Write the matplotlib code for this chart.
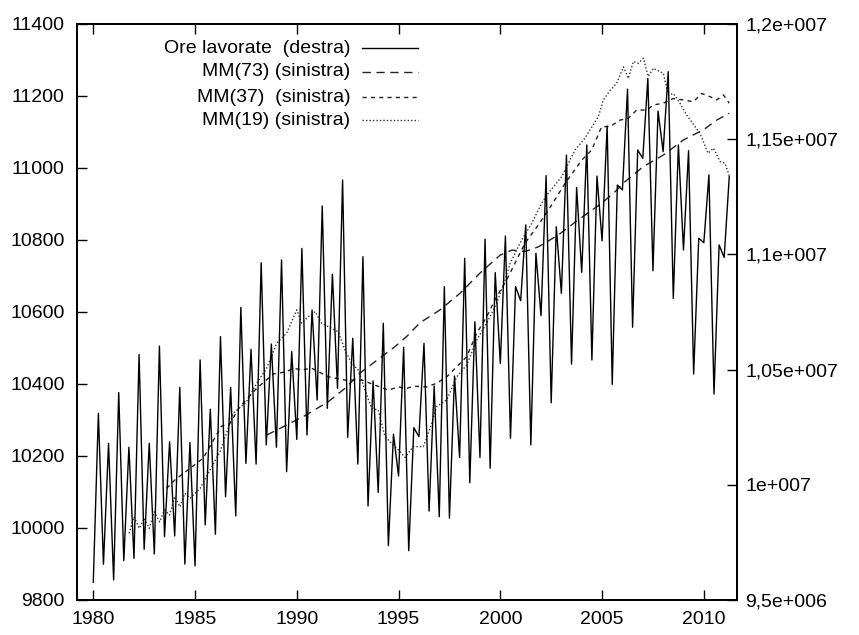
import numpy as np
import matplotlib
matplotlib.use("Agg")
import matplotlib.pyplot as plt
from matplotlib.lines import Line2D

plt.rcParams['font.family'] = ['Liberation Sans', 'DejaVu Sans']

# quarterly hours worked (thousands), right axis, 1980Q1 .. 2011Q2
quarters = np.arange(1980, 2011.5, 0.25)
ore_k = [
    9577, 10310, 9655, 10180,
    9587, 10400, 9671, 10163,
    9681, 10566, 9720, 10180,
    9700, 10602, 9775, 10187,
    9778, 10423, 9656, 10183,
    9648, 10542, 9826, 10328,
    9785, 10643, 9948, 10423,
    9865, 10770, 10093, 10588,
    10090, 10964, 10173, 10611,
    10163, 10976, 10057, 10578,
    10197, 11026, 10216, 10759,
    10368, 11210, 10332, 10914,
    10419, 11323, 10206, 10636,
    10090, 10990, 9908, 10451,
    9967, 10701, 9736, 10220,
    10038, 10597, 9714, 10248,
    10209, 10614, 9886, 10429,
    9862, 10860, 9855, 10472,
    10119, 10983, 10009, 10708,
    10119, 11066, 10072, 10921,
    10527, 11080, 10202, 10860,
    10799, 11128, 10173, 11005,
    10734, 11342, 10356, 11120,
    10831, 11431, 10524, 11290,
    10922, 11475, 10542, 11340,
    11059, 11557, 10436, 11301,
    11280, 11717, 10684, 11453,
    11417, 11764, 10929, 11622,
    11446, 11793, 10809, 11475,
    11019, 11450, 10481, 11070,
    11051, 11345, 10394, 11041,
    10987, 11337,
]

# moving averages (left axis), (year, value)
mm73 = [(1988.52, 10258), (1989.81, 10295), (1990.40, 10312), (1991.55, 10351),
        (1992.37, 10388), (1993.19, 10434), (1994.17, 10476), (1994.83, 10504),
        (1995.42, 10533), (1996.05, 10570), (1997.04, 10606), (1998.02, 10652),
        (1999.00, 10708), (1999.99, 10758), (2000.57, 10772), (2001.21, 10768),
        (2001.87, 10781), (2002.85, 10814), (2003.83, 10856), (2004.98, 10902),
        (2005.73, 10939), (2006.04, 10958), (2007.03, 11004), (2008.01, 11036),
        (2009.00, 11078), (2009.98, 11106), (2010.63, 11133), (2011.25, 11152)]

mm37 = [(1983.60, 10110), (1984.00, 10133), (1984.76, 10166), (1985.40, 10194),
        (1986.30, 10283), (1986.70, 10289), (1987.20, 10337), (1988.03, 10388),
        (1988.85, 10428), (1989.50, 10434), (1989.80, 10444), (1990.26, 10439),
        (1990.73, 10444), (1991.55, 10420), (1992.37, 10411), (1993.19, 10411),
        (1993.84, 10397), (1994.50, 10383), (1994.99, 10392), (1995.42, 10388),
        (1995.72, 10394), (1996.38, 10392), (1996.87, 10402), (1997.37, 10420),
        (1997.86, 10448), (1998.35, 10476), (1998.84, 10541), (1999.33, 10587),
        (1999.82, 10643), (2000.31, 10689), (2001.21, 10791), (2001.87, 10842),
        (2002.36, 10883), (2003.18, 10957), (2004.00, 11022), (2004.49, 11050),
        (2004.98, 11115), (2005.39, 11115), (2005.88, 11133), (2006.29, 11138),
        (2006.70, 11161), (2007.19, 11161), (2007.52, 11175), (2008.01, 11180),
        (2008.50, 11193), (2009.00, 11189), (2009.48, 11184), (2009.90, 11207),
        (2010.31, 11198), (2010.63, 11189), (2010.96, 11203), (2011.25, 11180)]

mm19 = [(1981.76, 9985), (1982.00, 10031), (1982.26, 9999), (1982.50, 10027),
        (1982.75, 9999), (1983.00, 10045), (1983.26, 10017), (1983.50, 10050),
        (1983.75, 10036), (1984.00, 10087), (1984.26, 10059), (1984.50, 10096),
        (1984.76, 10083), (1985.25, 10110), (1985.74, 10161), (1986.23, 10212),
        (1986.88, 10319), (1987.54, 10351), (1988.03, 10402), (1988.52, 10444),
        (1989.01, 10513), (1989.50, 10541), (1990.00, 10606), (1990.24, 10569),
        (1990.57, 10587), (1990.90, 10601), (1991.22, 10569), (1991.55, 10559),
        (1992.04, 10545), (1992.37, 10494), (1992.70, 10457), (1993.02, 10439),
        (1993.35, 10383), (1993.68, 10332), (1994.00, 10328), (1994.33, 10254),
        (1994.66, 10235), (1994.99, 10217), (1995.32, 10196), (1995.72, 10226),
        (1996.22, 10226), (1996.55, 10277), (1996.87, 10337), (1997.37, 10356),
        (1997.86, 10420), (1998.35, 10453), (1998.84, 10522), (1999.33, 10569),
        (1999.82, 10624), (2000.23, 10689), (2000.48, 10735), (2001.05, 10800),
        (2001.54, 10846), (2002.03, 10902), (2002.36, 10930), (2003.02, 10976),
        (2003.67, 11050), (2004.16, 11083), (2004.82, 11143), (2005.06, 11189),
        (2005.39, 11215), (2005.72, 11236), (2006.05, 11281), (2006.29, 11249),
        (2006.54, 11296), (2006.78, 11291), (2007.03, 11305), (2007.27, 11254),
        (2007.52, 11277), (2008.01, 11263), (2008.26, 11203), (2008.50, 11207),
        (2008.83, 11180), (2009.16, 11147), (2009.81, 11096), (2010.21, 11041),
        (2010.47, 11055), (2010.80, 11018), (2011.04, 11013), (2011.25, 10978)]

labels = ["Ore lavorate  (destra)", "MM(73) (sinistra)", "MM(37)  (sinistra)", "MM(19) (sinistra)"]
left_ticks = [9800, 10000, 10200, 10400, 10600, 10800, 11000, 11200, 11400]
right_ticks = [9.5e6, 1.0e7, 1.05e7, 1.1e7, 1.15e7, 1.2e7]
right_labels = ["9,5e+006", "1e+007", "1,05e+007", "1,1e+007", "1,15e+007", "1,2e+007"]
year_ticks = [1980, 1985, 1990, 1995, 2000, 2005, 2010]

fs = 14
fig = plt.figure(figsize=(8.59, 6.35), dpi=100)
ax = fig.add_axes([77 / 859, 35 / 635, 660 / 859, 576 / 635])
ax2 = ax.twinx()

styles = [
    dict(color='black', lw=1.0, ls='-'),
    dict(color='#222222', lw=1.0, ls=(0, (6, 4))),
    dict(color='#222222', lw=1.0, ls=(0, (3, 3))),
    dict(color='#333333', lw=1.0, ls=(0, (1, 1.5))),
]

ore = np.array(ore_k) * 1000
ax2.plot(quarters, ore, **styles[0])
for series, st in zip([mm73, mm37, mm19], styles[1:]):
    xs, ys = zip(*series)
    ax.plot(xs, ys, **st)

ax.set_xlim(1979.2, 2011.63)
ax.set_ylim(9800, 11400)
ax2.set_ylim(9.5e6, 1.2e7)

ax.set_xticks(year_ticks)
ax.set_yticks(left_ticks)
ax2.set_yticks(right_ticks)
ax2.set_yticklabels(right_labels)

ax.tick_params(axis='x', direction='in', length=7, width=1, top=True, bottom=True,
               labelsize=fs, pad=8)
ax.tick_params(axis='y', direction='in', length=7, width=1, left=True, right=False,
               labelsize=fs, pad=9)
ax2.tick_params(axis='y', direction='in', length=7, width=1, right=True, left=False,
                labelsize=fs, pad=6)

for a in (ax, ax2):
    for s in a.spines.values():
        s.set_linewidth(1.3)

# gnuplot-style key: right-aligned text, sample to the right
key_rows = [0.958, 0.917, 0.873, 0.833]
for lab, st, yk in zip(labels, styles, key_rows):
    ax.text(0.414, yk, lab, transform=ax.transAxes, ha='right', va='center', fontsize=fs)
    ax.add_line(Line2D([0.432, 0.517], [yk, yk], transform=ax.transAxes, **st))

fig.savefig("out.png", dpi=100)
